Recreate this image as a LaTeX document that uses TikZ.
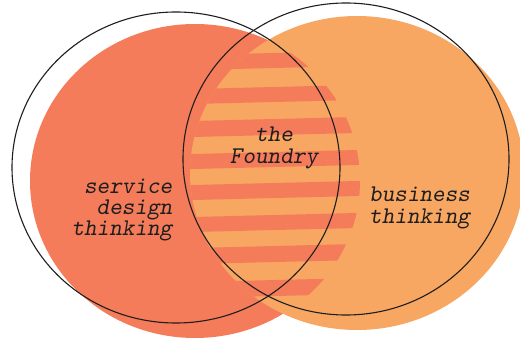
\documentclass[tikz,border=0pt]{standalone}
\usepackage{fontspec}
\usepackage{tikz}
\definecolor{servicered}{RGB}{244,124,90}
\definecolor{businessorange}{RGB}{248,167,99}
\definecolor{inkgray}{RGB}{30,30,30}
\newcommand{\figurescale}{1pt}
\newcommand{\redstripe}[2]{
	\fill[servicered, rotate around={1.4:(275,180)}] (150,#1) rectangle (400,#2);
}

\begin{document}
\begin{tikzpicture}[x=\figurescale,y=-\figurescale,
	venntext/.style={font=\fontsize{24}{21.3}\selectfont\ttfamily\slshape, text=inkgray, inner sep=0pt},
	outline/.style={draw=inkgray, line width=1.1pt}]
	\clip (0,0) rectangle (520,339);
	\coordinate (S) at (195,181);
	\coordinate (B) at (357,173);

	\fill[servicered] (S) ellipse [x radius=165, y radius=157];
	\fill[businessorange] (B) ellipse [x radius=167, y radius=157];

	\begin{scope}
	\clip (S) ellipse [x radius=165, y radius=157];
	\clip (B) ellipse [x radius=167, y radius=157];
	\redstripe{53}{68}
	\redstripe{87}{102}
	\redstripe{119}{135}
	\redstripe{152}{167}
	\redstripe{183}{198}
	\redstripe{215}{230}
	\redstripe{246}{262}
	\redstripe{280}{296}
	\end{scope}

	\draw[outline] (176,167.5) ellipse [x radius=164, y radius=155.5];
	\draw[outline] (346,159) ellipse [x radius=163, y radius=156];

	\node[venntext, align=right, anchor=east] (service) at (172.5,210) {service\\design\\thinking};
	\node[venntext, align=center] (foundry) at (274,148) {the\\Foundry};
	\node[venntext, align=left, anchor=west] (business) at (369,208) {business\\thinking};
\end{tikzpicture}
\end{document}
